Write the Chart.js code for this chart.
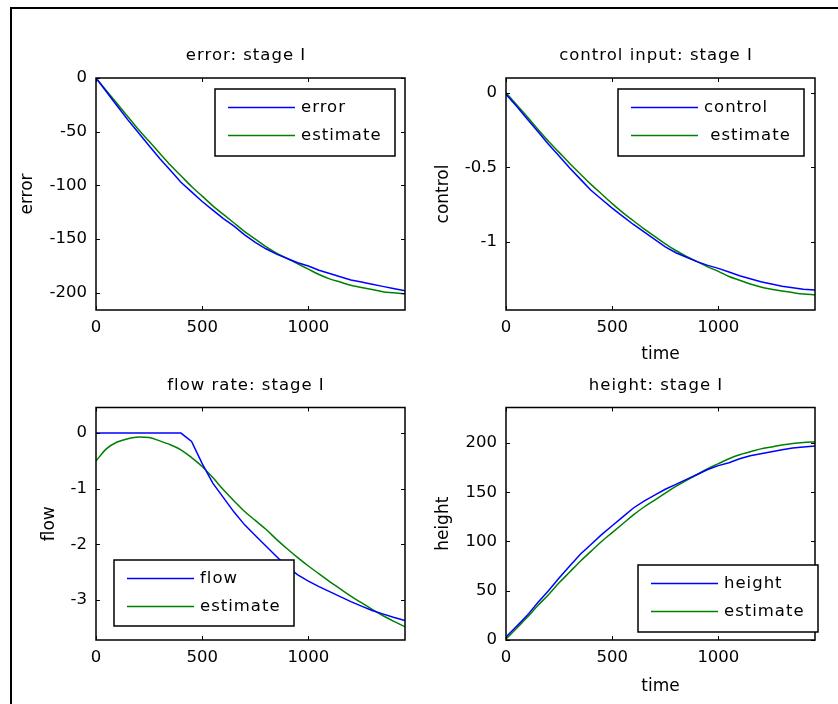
<!DOCTYPE html>
<html>
<head>
<meta charset="utf-8">
<script src="https://cdn.jsdelivr.net/npm/chart.js@4.4.1/dist/chart.umd.min.js"></script>
<style>
  html, body { margin: 0; padding: 0; background: #fff; }
  body { width: 838px; height: 704px; position: relative; overflow: hidden; }
  .frame-top { position: absolute; left: 10px; top: 7px; width: 828px; height: 2px; background: #000; }
  .frame-left { position: absolute; left: 10px; top: 7px; width: 2px; height: 697px; background: #000; }
  canvas { position: absolute; }
</style>
</head>
<body>
<div class="frame-top"></div>
<div class="frame-left"></div>
<canvas id="c1" width="410" height="345" style="left:12px;top:20px"></canvas>
<canvas id="c2" width="416" height="345" style="left:422px;top:20px"></canvas>
<canvas id="c3" width="410" height="345" style="left:12px;top:352px"></canvas>
<canvas id="c4" width="416" height="345" style="left:422px;top:352px"></canvas>
<script>
// time samples
const tFine = [0, 50, 100, 150, 200, 250, 300, 350, 400, 450, 500, 550, 600, 650, 700,
  750, 800, 850, 900, 950, 1000, 1050, 1100, 1150, 1200, 1250, 1300, 1350, 1400, 1455];

const errorVals = [0, -13, -26, -39, -51, -63, -75, -86, -97, -106, -115, -123, -131, -138, -146,
  -153, -159, -164, -168, -172, -175, -179, -182, -185, -188, -190, -192, -194, -196, -198];
const errorEst = [0, -12, -24, -36, -48, -59, -70, -81, -91, -101, -110, -119, -127, -135, -143,
  -150, -157, -163, -168, -173, -178, -183, -187, -190, -193, -195, -197, -199, -200, -201];

const controlVals = [-0.01, -0.09, -0.175, -0.26, -0.345, -0.425, -0.505, -0.58, -0.655, -0.715, -0.775, -0.83, -0.885, -0.935, -0.985,
  -1.035, -1.075, -1.105, -1.135, -1.16, -1.18, -1.205, -1.23, -1.25, -1.27, -1.285, -1.3, -1.31, -1.32, -1.325];
const controlEst = [0, -0.08, -0.16, -0.245, -0.325, -0.4, -0.475, -0.545, -0.615, -0.68, -0.745, -0.805, -0.86, -0.915, -0.965,
  -1.015, -1.06, -1.1, -1.135, -1.17, -1.2, -1.235, -1.26, -1.285, -1.305, -1.32, -1.333, -1.343, -1.352, -1.358];

const flowVals = [0, 0, 0, 0, 0, 0, 0, 0, 0, -0.15, -0.55, -0.9, -1.16, -1.42, -1.65,
  -1.84, -2.03, -2.22, -2.4, -2.55, -2.66, -2.76, -2.85, -2.94, -3.03, -3.11, -3.19, -3.25, -3.31, -3.37];
const flowEst = [-0.5, -0.28, -0.16, -0.1, -0.07, -0.08, -0.14, -0.21, -0.3, -0.44, -0.6, -0.8, -1.02, -1.22, -1.41,
  -1.57, -1.73, -1.91, -2.08, -2.24, -2.39, -2.53, -2.67, -2.8, -2.93, -3.05, -3.17, -3.28, -3.38, -3.48];

const heightVals = [3, 14, 25, 38, 50, 63, 75, 87, 97, 107, 116, 125, 134, 141, 147,
  153, 158, 163, 168, 173, 177, 180, 184, 187, 189, 191, 193, 195, 196, 197];
const heightEst = [1, 12, 23, 35, 46, 58, 69, 80, 90, 100, 109, 118, 127, 135, 142,
  149, 156, 162, 168, 174, 179, 184, 188, 191, 194, 196, 198, 199.5, 200.5, 201];

// tick labels
const xTicks = [0, 500, 1000];
const errorTicks = [0, -50, -100, -150, -200];
const controlTicks = [0, -0.5, -1];
const flowTicks = [0, -1, -2, -3];
const heightTicks = [0, 50, 100, 150, 200];

const BLUE = 'rgb(0,0,255)';
const GREEN = 'rgb(0,128,0)';
const FONT = 'DejaVu Sans';

function pts(xs, ys) {
  return xs.map((x, i) => ({ x: x, y: ys[i] }));
}

// matlab style box, inward ticks, title and legend
const matlabAxes = {
  id: 'matlabAxes',
  afterDatasetsDraw(chart, args, opts) {
    const ctx = chart.ctx, a = chart.chartArea;
    const xs = chart.scales.x, ys = chart.scales.y;
    ctx.save();
    ctx.strokeStyle = '#000';
    ctx.lineWidth = 1;
    ctx.beginPath();
    xs.ticks.forEach(t => {
      const p = Math.round(xs.getPixelForValue(t.value)) + 0.5;
      ctx.moveTo(p, a.bottom); ctx.lineTo(p, a.bottom - 4);
      ctx.moveTo(p, a.top); ctx.lineTo(p, a.top + 4);
    });
    ys.ticks.forEach(t => {
      const p = Math.round(ys.getPixelForValue(t.value)) + 0.5;
      ctx.moveTo(a.left, p); ctx.lineTo(a.left + 4, p);
      ctx.moveTo(a.right, p); ctx.lineTo(a.right - 4, p);
    });
    ctx.stroke();
    ctx.lineWidth = 1.5;
    ctx.strokeRect(a.left, a.top, a.right - a.left, a.bottom - a.top);

    ctx.letterSpacing = '1px';
    ctx.font = '16.5px "' + FONT + '"';
    ctx.fillStyle = '#000';
    ctx.textAlign = 'center';
    ctx.textBaseline = 'middle';
    ctx.fillText(opts.title, (a.left + a.right) / 2 - 4.5, a.top - 22);

    const L = opts.legend;
    const bx = a.left + L.dx, by = a.top + L.dy;
    ctx.fillStyle = '#fff';
    ctx.fillRect(bx, by, L.w, L.h);
    ctx.lineWidth = 1.5;
    ctx.strokeRect(bx, by, L.w, L.h);
    chart.data.datasets.forEach((ds, i) => {
      const ry = by + 18.5 + i * 28;
      ctx.strokeStyle = ds.borderColor;
      ctx.lineWidth = 1.5;
      ctx.beginPath();
      ctx.moveTo(bx + 13, ry);
      ctx.lineTo(bx + 80, ry);
      ctx.stroke();
      ctx.fillStyle = '#000';
      ctx.textAlign = 'left';
      ctx.fillText(ds.label, bx + 86, ry + 0.5);
    });
    ctx.restore();
  }
};

function makeChart(id, cfg) {
  const canvas = document.getElementById(id);
  new Chart(canvas, {
    type: 'line',
    data: {
      datasets: cfg.series.map(s => ({
        label: s.label,
        data: pts(tFine, s.values),
        borderColor: s.color,
        borderWidth: 1.5,
        pointRadius: 0,
        fill: false,
        tension: 0,
        cubicInterpolationMode: s.smooth ? 'monotone' : 'default'
      }))
    },
    options: {
      responsive: false,
      animation: false,
      devicePixelRatio: 1,
      layout: { padding: { left: 0, top: cfg.top, right: canvas.width - 393, bottom: 0 } },
      plugins: {
        legend: { display: false },
        tooltip: { enabled: false },
        matlabAxes: { title: cfg.title, legend: cfg.legend }
      },
      scales: {
        x: {
          type: 'linear', min: 0, max: 1455,
          afterBuildTicks: s => { s.ticks = xTicks.map(v => ({ value: v })); },
          afterFit: s => { s.height = cfg.xh; },
          grid: { display: false, drawTicks: false },
          border: { display: false },
          ticks: { color: '#000', font: { family: FONT, size: 16.5 }, padding: 8, maxRotation: 0, autoSkip: false,
                   callback: v => String(v) },
          title: { display: !!cfg.xTitle, text: cfg.xTitle || '', color: '#000',
                   font: { family: FONT, size: 17 }, padding: { top: 0, bottom: 0 } }
        },
        y: {
          type: 'linear', min: cfg.yMin, max: cfg.yMax,
          afterBuildTicks: s => { s.ticks = cfg.yTicks.map(v => ({ value: v })); },
          afterFit: s => { s.width = 84; },
          grid: { display: false, drawTicks: false },
          border: { display: false },
          ticks: { color: '#000', font: { family: FONT, size: 16.5 }, padding: 9, autoSkip: false,
                   callback: v => String(v) },
          title: { display: true, text: cfg.yTitle, color: '#000',
                   font: { family: FONT, size: 17 }, padding: { top: cfg.yPad, bottom: 0 } }
        }
      }
    },
    plugins: [matlabAxes]
  });
}

makeChart('c1', {
  title: 'error: stage I', yTitle: 'error', yPad: 5,
  yMin: -216, yMax: 0, yTicks: errorTicks, top: 58, xh: 55,
  legend: { dx: 119, dy: 11, w: 180, h: 67 },
  series: [
    { label: 'error', values: errorVals, color: BLUE },
    { label: 'estimate', values: errorEst, color: GREEN, smooth: true }
  ]
});

makeChart('c2', {
  title: 'control input: stage I', yTitle: 'control', yPad: 11, xTitle: 'time',
  yMin: -1.46, yMax: 0.1, yTicks: controlTicks, top: 58, xh: 55,
  legend: { dx: 112, dy: 11, w: 186, h: 67 },
  series: [
    { label: 'control', values: controlVals, color: BLUE },
    { label: ' estimate', values: controlEst, color: GREEN, smooth: true }
  ]
});

makeChart('c3', {
  title: 'flow rate: stage I', yTitle: 'flow', yPad: 27,
  yMin: -3.72, yMax: 0.46, yTicks: flowTicks, top: 55.5, xh: 57,
  legend: { dx: 18, dy: 152.5, w: 180, h: 66 },
  series: [
    { label: 'flow', values: flowVals, color: BLUE },
    { label: 'estimate', values: flowEst, color: GREEN, smooth: true }
  ]
});

makeChart('c4', {
  title: 'height: stage I', yTitle: 'height', yPad: 11, xTitle: 'time',
  yMin: 0, yMax: 236, yTicks: heightTicks, top: 55.5, xh: 57,
  legend: { dx: 132, dy: 157.5, w: 180, h: 67 },
  series: [
    { label: 'height', values: heightVals, color: BLUE },
    { label: 'estimate', values: heightEst, color: GREEN, smooth: true }
  ]
});
</script>
</body>
</html>
